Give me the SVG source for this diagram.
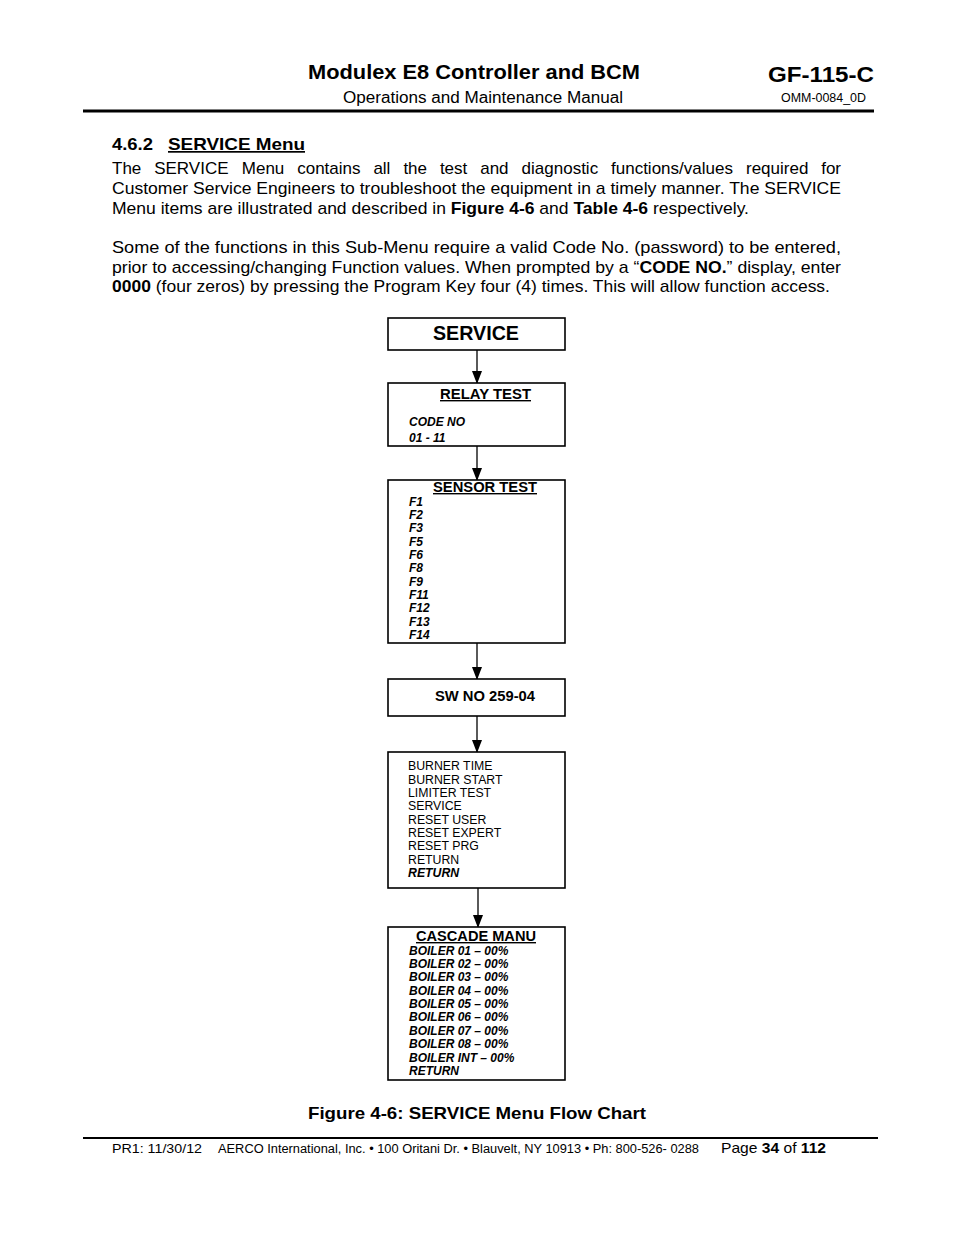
<svg xmlns="http://www.w3.org/2000/svg" width="954" height="1235" viewBox="0 0 954 1235">
<defs>
<marker id="ah" markerWidth="13" markerHeight="12" refX="12" refY="6" orient="auto" markerUnits="userSpaceOnUse">
<path d="M0,1 L13,6 L0,11 z" fill="#000"/>
</marker>
<style>
text{font-family:"Liberation Sans",Arial,sans-serif;fill:#000}
.b{font-weight:bold}
.p{font-size:17px}
.box{fill:#fff;stroke:#000;stroke-width:1.6}
.conn line{stroke:#000;stroke-width:1.3}
.h{font-size:14px;font-weight:bold;text-decoration:underline}
.bi{font-size:12px;font-weight:bold;font-style:italic}
.r{font-size:12.3px}
</style>
</defs>
<rect width="954" height="1235" fill="#fff"/>
<!-- header -->
<text x="474" y="79" class="b" font-size="20" text-anchor="middle" textLength="332" lengthAdjust="spacingAndGlyphs">Modulex E8 Controller and BCM</text>
<text x="768" y="82" class="b" font-size="22" textLength="106" lengthAdjust="spacingAndGlyphs">GF-115-C</text>
<text x="343" y="103" font-size="16" textLength="280" lengthAdjust="spacingAndGlyphs">Operations and Maintenance Manual</text>
<text x="781" y="102" font-size="12" textLength="85" lengthAdjust="spacingAndGlyphs">OMM-0084_0D</text>
<line x1="83" y1="111" x2="874" y2="111" stroke="#000" stroke-width="3"/>
<!-- section -->
<text x="112" y="150" class="b" font-size="17" textLength="41" lengthAdjust="spacingAndGlyphs">4.6.2</text>
<text x="168" y="150" class="b" font-size="17" text-decoration="underline" textLength="137" lengthAdjust="spacingAndGlyphs">SERVICE Menu</text>
<g class="p">
<text x="112" y="174">The</text>
<text x="154.2" y="174">SERVICE</text>
<text x="241.8" y="174">Menu</text>
<text x="297.2" y="174">contains</text>
<text x="373.4" y="174">all</text>
<text x="403.4" y="174">the</text>
<text x="439.9" y="174">test</text>
<text x="480.2" y="174">and</text>
<text x="521.6" y="174">diagnostic</text>
<text x="611" y="174">functions/values</text>
<text x="746" y="174">required</text>
<text x="841" y="174" text-anchor="end">for</text>
<text x="112" y="194" textLength="729" lengthAdjust="spacingAndGlyphs">Customer Service Engineers to troubleshoot the equipment in a timely manner. The SERVICE</text>
<text x="112" y="214" textLength="637" lengthAdjust="spacingAndGlyphs">Menu items are illustrated and described in <tspan class="b">Figure 4-6</tspan> and <tspan class="b">Table 4-6</tspan> respectively.</text>
<text x="112" y="253" textLength="729" lengthAdjust="spacingAndGlyphs">Some of the functions in this Sub-Menu require a valid Code No. (password) to be entered,</text>
<text x="112" y="273" textLength="729" lengthAdjust="spacingAndGlyphs">prior to accessing/changing Function values. When prompted by a “<tspan class="b">CODE NO.</tspan>” display, enter</text>
<text x="112" y="292" textLength="718" lengthAdjust="spacingAndGlyphs"><tspan class="b">0000</tspan> (four zeros) by pressing the Program Key four (4) times. This will allow function access.</text>
</g>
<!-- connectors -->
<g id="connectors" class="conn">
<line x1="477" y1="350" x2="477" y2="383" marker-end="url(#ah)"/>
<line x1="477" y1="446" x2="477" y2="480" marker-end="url(#ah)"/>
<line x1="477" y1="643" x2="477" y2="679" marker-end="url(#ah)"/>
<line x1="477" y1="716" x2="477" y2="752" marker-end="url(#ah)"/>
<line x1="478" y1="888" x2="478" y2="927" marker-end="url(#ah)"/>
</g>
<!-- nodes -->
<g id="n-service">
<rect class="box" x="388" y="318" width="177" height="32"/>
<text x="476" y="340" class="b" font-size="20" text-anchor="middle" textLength="86" lengthAdjust="spacingAndGlyphs">SERVICE</text>
</g>
<g id="n-relay">
<rect class="box" x="388" y="383" width="177" height="63"/>
<text x="440" y="399" class="h" textLength="91" lengthAdjust="spacingAndGlyphs">RELAY TEST</text>
<text x="409" y="426" class="bi">CODE NO</text>
<text x="409" y="442" class="bi">01 - 11</text>
</g>
<g id="n-sensor">
<rect class="box" x="388" y="480" width="177" height="163"/>
<text x="433" y="492" class="h" textLength="104" lengthAdjust="spacingAndGlyphs">SENSOR TEST</text>
<text x="409" y="506" class="bi">F1</text>
<text x="409" y="519" class="bi">F2</text>
<text x="409" y="532" class="bi">F3</text>
<text x="409" y="546" class="bi">F5</text>
<text x="409" y="559" class="bi">F6</text>
<text x="409" y="572" class="bi">F8</text>
<text x="409" y="586" class="bi">F9</text>
<text x="409" y="599" class="bi">F11</text>
<text x="409" y="612" class="bi">F12</text>
<text x="409" y="626" class="bi">F13</text>
<text x="409" y="639" class="bi">F14</text>
</g>
<g id="n-swno">
<rect class="box" x="388" y="679" width="177" height="37"/>
<text x="435" y="701" class="b" font-size="14" textLength="100" lengthAdjust="spacingAndGlyphs">SW NO 259-04</text>
</g>
<g id="n-burner">
<rect class="box" x="388" y="752" width="177" height="136"/>
<text x="408" y="770" class="r">BURNER TIME</text>
<text x="408" y="784" class="r">BURNER START</text>
<text x="408" y="797" class="r">LIMITER TEST</text>
<text x="408" y="810" class="r">SERVICE</text>
<text x="408" y="824" class="r">RESET USER</text>
<text x="408" y="837" class="r">RESET EXPERT</text>
<text x="408" y="850" class="r">RESET PRG</text>
<text x="408" y="864" class="r">RETURN</text>
<text x="408" y="877" class="r" font-weight="bold" font-style="italic">RETURN</text>
</g>
<g id="n-cascade">
<rect class="box" x="388" y="927" width="177" height="153"/>
<text x="416" y="941" class="h" textLength="120" lengthAdjust="spacingAndGlyphs">CASCADE MANU</text>
<text x="409" y="955" class="bi">BOILER 01 – 00%</text>
<text x="409" y="968" class="bi">BOILER 02 – 00%</text>
<text x="409" y="981" class="bi">BOILER 03 – 00%</text>
<text x="409" y="995" class="bi">BOILER 04 – 00%</text>
<text x="409" y="1008" class="bi">BOILER 05 – 00%</text>
<text x="409" y="1021" class="bi">BOILER 06 – 00%</text>
<text x="409" y="1035" class="bi">BOILER 07 – 00%</text>
<text x="409" y="1048" class="bi">BOILER 08 – 00%</text>
<text x="409" y="1062" class="bi">BOILER INT – 00%</text>
<text x="409" y="1075" class="bi">RETURN</text>
</g>
<!-- caption and footer -->
<text x="308" y="1119" class="b" font-size="17" textLength="338" lengthAdjust="spacingAndGlyphs">Figure 4-6: SERVICE Menu Flow Chart</text>
<line x1="83" y1="1138" x2="878" y2="1138" stroke="#000" stroke-width="2"/>
<text x="112" y="1153" font-size="13" textLength="90" lengthAdjust="spacingAndGlyphs">PR1: 11/30/12</text>
<text x="218" y="1153" font-size="12" font-family="'Open Sans',sans-serif" textLength="481" lengthAdjust="spacingAndGlyphs">AERCO International, Inc. • 100 Oritani Dr. •  Blauvelt, NY 10913 • Ph: 800-526- 0288</text>
<text x="721" y="1153" font-size="15" textLength="105" lengthAdjust="spacingAndGlyphs">Page <tspan class="b">34</tspan> of <tspan class="b">112</tspan></text>
</svg>
